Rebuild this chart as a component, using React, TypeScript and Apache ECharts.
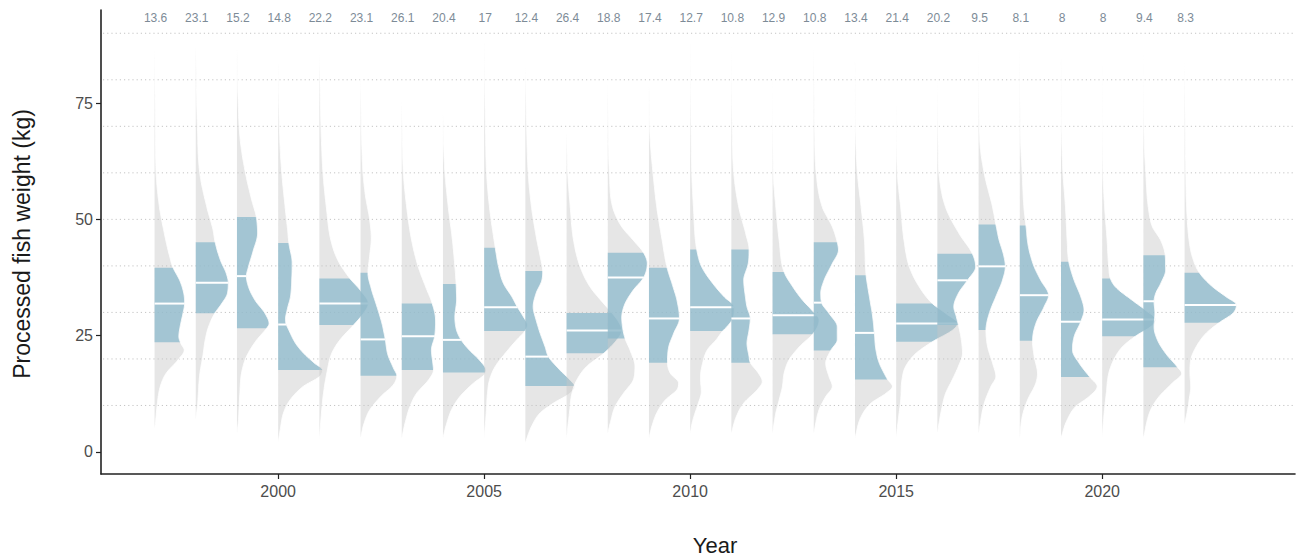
import React, { useEffect, useRef } from "react";
import * as echarts from "echarts";

// Survey years and the small summary value printed above each year
const years = [
  1997, 1998, 1999, 2000, 2001, 2002, 2003, 2004, 2005, 2006, 2007, 2008, 2009,
  2010, 2011, 2012, 2013, 2014, 2015, 2016, 2017, 2018, 2019, 2020, 2021, 2022,
];
const topLabels = [
  "13.6", "23.1", "15.2", "14.8", "22.2", "23.1", "26.1", "20.4", "17", "12.4",
  "26.4", "18.8", "17.4", "12.7", "10.8", "12.9", "10.8", "13.4", "21.4", "20.2",
  "9.5", "8.1", "8", "8", "9.4", "8.3",
];

// Quartiles of processed fish weight (kg) per year
const q1 = [
  23.6, 29.8, 26.6, 17.6, 27.3, 16.4, 17.6, 17.1, 26.0, 14.2, 21.2, 24.4, 19.2,
  26.0, 19.2, 25.3, 21.8, 15.6, 23.7, 27.3, 26.2, 23.9, 16.1, 24.9, 18.2, 27.8,
];
const medians = [
  31.9, 36.4, 37.8, 27.4, 31.9, 24.2, 24.9, 24.1, 31.1, 20.5, 26.1, 37.5, 28.7,
  31.1, 28.7, 29.4, 32.1, 25.6, 27.6, 36.9, 39.9, 33.7, 28.0, 28.5, 32.4, 31.6,
];
const q3 = [
  39.6, 45.1, 50.5, 44.9, 37.3, 38.5, 31.9, 36.1, 43.9, 38.9, 29.9, 42.8, 39.6,
  43.5, 43.5, 38.7, 45.1, 38.0, 31.9, 42.6, 48.9, 48.7, 40.9, 37.3, 42.3, 38.5,
];

// Density profiles: [weight (kg), half-width (years)], bottom to top
const density1997 = [[5, 0], [6.2, 0.02], [9.8, 0.06], [14.1, 0.14], [16.9, 0.28], [19.8, 0.57], [21.9, 0.72], [23.3, 0.64], [24.8, 0.59], [26.9, 0.62], [29.8, 0.69], [31.9, 0.73], [34.1, 0.71], [36.9, 0.61], [39.6, 0.45], [42.6, 0.35], [46.9, 0.24], [52.6, 0.12], [59.8, 0.04], [70, 0.02], [88, 0]];
const density1998 = [[7, 0], [9.8, 0.04], [16.9, 0.1], [20.5, 0.17], [24.1, 0.23], [26.9, 0.31], [29.8, 0.46], [31.9, 0.63], [34.1, 0.77], [36.4, 0.79], [38.4, 0.74], [41.2, 0.6], [45.1, 0.47], [47.7, 0.42], [52.6, 0.27], [59.8, 0.1], [70, 0.04], [87.5, 0]];
const density1999 = [[4, 0], [6.2, 0.03], [12.6, 0.07], [16.9, 0.11], [20.5, 0.23], [24.1, 0.48], [26.6, 0.72], [27.6, 0.78], [29.8, 0.68], [32.6, 0.44], [35.5, 0.28], [37.8, 0.23], [39.8, 0.28], [43.4, 0.4], [46.9, 0.5], [50.5, 0.47], [54.1, 0.36], [59.8, 0.21], [67, 0.08], [75, 0.03], [87, 0]];
const density2000 = [[2, 0], [4.8, 0.05], [8.4, 0.13], [11.2, 0.29], [14.1, 0.61], [16.2, 1.0], [17.6, 1.08], [19.1, 0.88], [21.2, 0.62], [23.4, 0.42], [26.2, 0.26], [27.6, 0.19], [28.6, 0.18], [30.6, 0.22], [33.4, 0.3], [37, 0.33], [40.6, 0.34], [44.9, 0.26], [47.7, 0.23], [52.6, 0.17], [59.8, 0.09], [67, 0.04], [84, 0]];
const density2001 = [[2.6, 0], [6.2, 0.03], [12.6, 0.1], [16.9, 0.18], [21.2, 0.3], [24.1, 0.5], [27.3, 0.83], [29.8, 1.07], [31.9, 1.19], [34.8, 0.99], [37.3, 0.74], [41.2, 0.45], [45.5, 0.28], [52.6, 0.17], [59.8, 0.09], [67, 0.05], [86, 0]];
const density2002 = [[3, 0], [6, 0.08], [9, 0.22], [12, 0.5], [14.5, 0.8], [16.4, 0.88], [18, 0.8], [21, 0.66], [24.2, 0.6], [27.6, 0.52], [31.2, 0.4], [34.8, 0.27], [38.5, 0.18], [42, 0.22], [46, 0.26], [50, 0.22], [55, 0.12], [60, 0.06], [66, 0.03], [81, 0]];
const density2003 = [[3, 0], [6.2, 0.08], [9.8, 0.2], [12.6, 0.36], [15.5, 0.65], [17.6, 0.77], [19.4, 0.75], [21.9, 0.72], [24.9, 0.8], [28.4, 0.82], [31.9, 0.74], [35.5, 0.58], [39.8, 0.4], [45.5, 0.24], [52.6, 0.12], [59.8, 0.04], [65, 0.02], [75.6, 0]];
const density2004 = [[3, 0], [5.5, 0.07], [9.1, 0.21], [11.9, 0.41], [14.8, 0.74], [16.6, 1.0], [17.6, 1.04], [19.8, 0.88], [21.9, 0.64], [24.1, 0.44], [26.2, 0.33], [29.1, 0.29], [32.6, 0.33], [36.1, 0.32], [39.8, 0.29], [45.5, 0.23], [52.6, 0.13], [59.8, 0.05], [65, 0.02], [73, 0]];
const density2005 = [[3, 0], [8.4, 0.05], [12.6, 0.08], [15.5, 0.13], [18.4, 0.27], [21.2, 0.51], [24.1, 0.79], [26, 0.99], [27.3, 1.05], [29.1, 0.95], [31.1, 0.81], [33.4, 0.67], [36.2, 0.47], [39.8, 0.35], [43.9, 0.27], [52.6, 0.13], [59.8, 0.06], [70, 0.03], [88.5, 0]];
const density2006 = [[2, 0], [5.5, 0.15], [8.4, 0.36], [10.5, 0.68], [12.6, 1.08], [14.1, 1.2], [15.5, 1.08], [17.6, 0.84], [20.5, 0.56], [22.6, 0.48], [25.5, 0.36], [28.4, 0.26], [31.2, 0.19], [34.1, 0.26], [36.9, 0.4], [38.9, 0.42], [42, 0.36], [45.5, 0.28], [52.6, 0.15], [59.8, 0.07], [70, 0.03], [83, 0]];
const density2007 = [[3, 0], [8.4, 0.07], [12.6, 0.13], [15.5, 0.25], [18.4, 0.49], [21.2, 0.9], [24.1, 1.22], [26.1, 1.34], [28, 1.26], [29.9, 1.1], [31.9, 0.9], [35.5, 0.57], [39.8, 0.33], [45.5, 0.17], [52.6, 0.09], [59.8, 0.03], [69, 0]];
const density2008 = [[4, 0], [6.2, 0.06], [9.8, 0.18], [12.6, 0.38], [15.5, 0.62], [18.4, 0.66], [21.9, 0.54], [24.4, 0.42], [26.8, 0.36], [28.9, 0.34], [31.9, 0.42], [34.8, 0.62], [37.5, 0.87], [40.5, 0.96], [42.8, 0.87], [45.5, 0.62], [48.4, 0.34], [52.6, 0.12], [59.8, 0.04], [65, 0.02], [80, 0]];
const density2009 = [[3, 0], [5.5, 0.07], [8.4, 0.19], [11.2, 0.4], [13.4, 0.68], [14.8, 0.72], [16.9, 0.52], [19.2, 0.45], [22.6, 0.48], [25.5, 0.6], [28.7, 0.74], [32.6, 0.68], [36.2, 0.56], [39.6, 0.44], [45.5, 0.32], [52.6, 0.19], [59.8, 0.1], [67, 0.03], [79, 0]];
const density2010 = [[4, 0], [7, 0.07], [10, 0.18], [13, 0.27], [16, 0.25], [19, 0.3], [22, 0.42], [24, 0.62], [26.1, 0.8], [27, 0.9], [29, 1.05], [31.1, 1.07], [33.4, 0.82], [36.2, 0.55], [39.8, 0.28], [43.5, 0.16], [52.6, 0.08], [59.8, 0.04], [70, 0.02], [88.5, 0]];
const density2011 = [[4, 0], [7.6, 0.12], [10.5, 0.3], [13.4, 0.63], [15.1, 0.75], [16.9, 0.66], [19.2, 0.46], [20.5, 0.43], [23.4, 0.38], [26.2, 0.43], [28.7, 0.46], [31.2, 0.38], [34.1, 0.33], [36.9, 0.3], [40.5, 0.41], [43.5, 0.43], [46.9, 0.35], [52.6, 0.18], [59.8, 0.06], [70, 0.02], [88, 0]];
const density2012 = [[4, 0], [8.4, 0.08], [11.2, 0.16], [14.1, 0.24], [16.9, 0.28], [19.8, 0.4], [22.6, 0.65], [25.3, 0.97], [26.9, 1.09], [28.4, 1.13], [30.5, 0.95], [32.6, 0.73], [35.5, 0.49], [38.7, 0.28], [45.5, 0.16], [52.6, 0.08], [59.8, 0.02], [84, 0]];
const density2013 = [[4, 0], [9.1, 0.13], [11.9, 0.29], [14.1, 0.45], [16.2, 0.37], [19.1, 0.29], [21.8, 0.41], [24.1, 0.57], [26.9, 0.57], [29.8, 0.37], [32.1, 0.19], [34.1, 0.17], [36.9, 0.25], [40.5, 0.45], [43.4, 0.6], [45.1, 0.57], [48.4, 0.45], [52.6, 0.21], [59.8, 0.06], [70, 0.02], [87.5, 0]];
const density2014 = [[3, 0], [7.6, 0.15], [10.5, 0.39], [12.6, 0.75], [14.1, 0.91], [15.6, 0.79], [16.9, 0.71], [19.1, 0.59], [21.9, 0.51], [25.6, 0.47], [29.1, 0.43], [33.4, 0.35], [38, 0.27], [45.5, 0.23], [52.6, 0.15], [59.8, 0.06], [67, 0.02], [85, 0]];
const density2015 = [[3, 0], [7.6, 0.06], [11.2, 0.11], [15.5, 0.14], [18.4, 0.23], [21.2, 0.48], [23.7, 0.88], [26.2, 1.37], [27.6, 1.49], [29.8, 1.2], [31.9, 0.88], [35.5, 0.56], [39.8, 0.32], [45.5, 0.19], [52.6, 0.11], [59.8, 0.03], [75.6, 0]];
const density2016 = [[4, 0], [9.1, 0.1], [12.6, 0.2], [15.5, 0.36], [18.4, 0.51], [21.2, 0.61], [24.8, 0.57], [27.3, 0.51], [29.1, 0.46], [31.2, 0.4], [34.1, 0.51], [36.9, 0.73], [39.8, 0.93], [42.6, 0.85], [46.9, 0.53], [52.6, 0.2], [59.8, 0.04], [65, 0.02], [81, 0]];
const density2017 = [[4, 0], [10.5, 0.14], [14.1, 0.3], [16.2, 0.42], [19.1, 0.34], [22.6, 0.22], [26.2, 0.18], [29.8, 0.26], [33.4, 0.42], [36.9, 0.58], [39.9, 0.65], [42.6, 0.6], [45.5, 0.5], [48.9, 0.42], [52.6, 0.34], [59.8, 0.14], [67, 0.03], [88, 0]];
const density2018 = [[3, 0], [7.6, 0.06], [11.2, 0.19], [14.8, 0.39], [16.9, 0.43], [20.5, 0.35], [23.9, 0.31], [27.6, 0.39], [31.2, 0.59], [33.7, 0.7], [36.9, 0.51], [39.8, 0.35], [44.1, 0.21], [48.7, 0.15], [52.6, 0.1], [59.8, 0.06], [67, 0.02], [88, 0]];
const density2019 = [[3, 0], [6.9, 0.15], [9.8, 0.36], [11.9, 0.68], [14.1, 0.88], [16.1, 0.7], [19.1, 0.44], [21.9, 0.28], [24.8, 0.32], [28, 0.48], [30.5, 0.56], [33.4, 0.48], [36.9, 0.32], [40.9, 0.19], [45.5, 0.15], [52.6, 0.11], [59.8, 0.05], [67, 0.02], [86, 0]];
const density2020 = [[3, 0], [7.6, 0.04], [12.6, 0.1], [16.9, 0.16], [19.8, 0.28], [22.6, 0.49], [24.9, 0.81], [27.3, 1.23], [28.5, 1.29], [30.5, 1.05], [32.6, 0.73], [35.5, 0.32], [37.3, 0.2], [39.8, 0.16], [45.5, 0.12], [52.6, 0.06], [59.8, 0.02], [85, 0]];
const density2021 = [[3, 0], [9.1, 0.18], [11.9, 0.38], [14.8, 0.7], [16.9, 0.93], [18.2, 0.83], [21.2, 0.54], [24.1, 0.34], [26.9, 0.26], [29.8, 0.28], [32.4, 0.26], [34.1, 0.3], [36.2, 0.42], [39.1, 0.54], [42.3, 0.53], [45.5, 0.42], [48.4, 0.22], [52.6, 0.12], [59.8, 0.06], [67, 0.02], [87.5, 0]];
const density2022 = [[6, 0], [8.4, 0.06], [11.2, 0.11], [14.1, 0.15], [16.9, 0.13], [19.8, 0.15], [22.6, 0.28], [25.5, 0.52], [27.8, 0.84], [29.8, 1.17], [31.6, 1.26], [33.4, 1.0], [35.5, 0.68], [38.5, 0.36], [41.9, 0.19], [45.5, 0.11], [52.6, 0.05], [59.8, 0.03], [84, 0]];

const densities = [
  density1997, density1998, density1999, density2000, density2001, density2002,
  density2003, density2004, density2005, density2006, density2007, density2008,
  density2009, density2010, density2011, density2012, density2013, density2014,
  density2015, density2016, density2017, density2018, density2019, density2020,
  density2021, density2022,
];

const xTicks = [2000, 2005, 2010, 2015, 2020];
const yTicks = [0, 25, 50, 75];
const guideLines = [10, 20, 30, 40, 50, 60, 70, 80, 90];

const X_MIN = 1995.7;
const X_MAX = 2024.68;
const Y_MIN = -4.73;
const Y_MAX = 95;
const LABEL_Y = 93.3;

const FONT = "'Liberation Sans', Arial, Helvetica, sans-serif";
const SLAB_GREY = "rgba(200,200,200,0.45)";
const SLAB_BLUE = "rgba(137,184,204,0.72)";

// Smooth, shape-preserving curve through a profile's points (Fritsch–Carlson)
function monotoneCurve(pts: number[][]) {
  const n = pts.length;
  const xs = pts.map((p) => p[0]);
  const ys = pts.map((p) => p[1]);
  const d: number[] = [];
  for (let i = 0; i < n - 1; i++) d.push((ys[i + 1] - ys[i]) / (xs[i + 1] - xs[i]));
  const m: number[] = new Array(n);
  m[0] = d[0];
  m[n - 1] = d[n - 2];
  for (let i = 1; i < n - 1; i++) m[i] = d[i - 1] * d[i] <= 0 ? 0 : (d[i - 1] + d[i]) / 2;
  for (let i = 0; i < n - 1; i++) {
    if (d[i] === 0) {
      m[i] = 0;
      m[i + 1] = 0;
      continue;
    }
    const a = m[i] / d[i];
    const b = m[i + 1] / d[i];
    const s = a * a + b * b;
    if (s > 9) {
      const t = 3 / Math.sqrt(s);
      m[i] = t * a * d[i];
      m[i + 1] = t * b * d[i];
    }
  }
  return (x: number) => {
    let i = 0;
    while (i < n - 2 && x > xs[i + 1]) i++;
    const h = xs[i + 1] - xs[i];
    const t = Math.min(1, Math.max(0, (x - xs[i]) / h));
    const t2 = t * t;
    const t3 = t2 * t;
    const v =
      (2 * t3 - 3 * t2 + 1) * ys[i] +
      (t3 - 2 * t2 + t) * h * m[i] +
      (-2 * t3 + 3 * t2) * ys[i + 1] +
      (t3 - t2) * h * m[i + 1];
    return Math.max(0, v);
  };
}

const curves = densities.map((p) => monotoneCurve(p));

function slabRenderer(params: any, api: any) {
  const i = params.dataIndex;
  const yr = years[i];
  const f = curves[i];
  const prof = densities[i];
  const vLo = prof[0][0];
  const vHi = prof[prof.length - 1][0];
  const step = 0.2;

  const edgePts = (a: number, b: number) => {
    const out: number[][] = [];
    for (let v = a; v < b; v += step) out.push(api.coord([yr + f(v), v]));
    out.push(api.coord([yr + f(b), b]));
    return out;
  };

  const fullEdge = edgePts(vLo, vHi);
  const full = [api.coord([yr, vLo]), ...fullEdge, api.coord([yr, vHi])];
  const blueEdge = edgePts(q1[i], q3[i]);
  const blue = [api.coord([yr, q1[i]]), ...blueEdge, api.coord([yr, q3[i]])];
  const m0 = api.coord([yr, medians[i]]);
  const m1 = api.coord([yr + f(medians[i]), medians[i]]);

  return {
    type: "group",
    children: [
      { type: "polygon", shape: { points: full }, style: { fill: SLAB_GREY } },
      { type: "polygon", shape: { points: blue }, style: { fill: SLAB_BLUE } },
      {
        type: "polyline",
        shape: { points: fullEdge },
        style: { stroke: "#ffffff", lineWidth: 0.9, fill: null },
      },
      {
        type: "line",
        shape: { x1: m0[0], y1: m0[1], x2: m1[0], y2: m1[1] },
        style: { stroke: "#ffffff", lineWidth: 2 },
      },
    ],
  };
}

export default function App() {
  const ref = useRef<HTMLDivElement>(null);

  useEffect(() => {
    if (!ref.current) return;
    const chart = echarts.init(ref.current, null, { renderer: "svg" });

    const option: any = {
      animation: false,
      backgroundColor: "#ffffff",
      grid: { left: 101, right: 9, top: 10, bottom: 85 },
      xAxis: {
        type: "value",
        min: X_MIN,
        max: X_MAX,
        axisLine: { show: true, onZero: false, lineStyle: { color: "#222222", width: 1.6 } },
        axisTick: {
          show: true,
          customValues: xTicks,
          length: 5,
          lineStyle: { color: "#222222", width: 1.2 },
        },
        axisLabel: {
          customValues: xTicks,
          formatter: (v: number) => String(v),
          fontSize: 16,
          color: "#4d4d4d",
          margin: 9,
          fontFamily: FONT,
        },
        splitLine: { show: false },
      },
      yAxis: {
        type: "value",
        min: Y_MIN,
        max: Y_MAX,
        axisLine: { show: true, onZero: false, lineStyle: { color: "#222222", width: 1.6 } },
        axisTick: {
          show: true,
          customValues: yTicks,
          length: 5,
          lineStyle: { color: "#222222", width: 1.2 },
        },
        axisLabel: {
          customValues: yTicks,
          formatter: (v: number) => String(v),
          fontSize: 16,
          color: "#4d4d4d",
          margin: 8,
          fontFamily: FONT,
        },
        splitLine: { show: false },
      },
      series: [
        {
          type: "custom",
          name: "guides",
          silent: true,
          z: 1,
          data: guideLines.map((v) => [X_MIN, v]),
          renderItem: (params: any, api: any) => {
            const v = guideLines[params.dataIndex];
            const a = api.coord([X_MIN, v]);
            const b = api.coord([X_MAX, v]);
            return {
              type: "line",
              shape: { x1: a[0] + 2, y1: a[1], x2: b[0], y2: b[1] },
              style: { stroke: "#c4c4c4", lineWidth: 1, lineDash: [1.2, 3] },
            };
          },
        },
        {
          type: "custom",
          name: "slabs",
          silent: true,
          z: 2,
          data: years.map((y, i) => [y, medians[i]]),
          renderItem: slabRenderer,
        },
        {
          type: "custom",
          name: "labels",
          silent: true,
          z: 3,
          data: years.map((y) => [y, LABEL_Y]),
          renderItem: (params: any, api: any) => {
            const i = params.dataIndex;
            const p = api.coord([years[i], LABEL_Y]);
            return {
              type: "text",
              x: p[0] + 1,
              y: p[1],
              style: {
                text: topLabels[i],
                fill: "#7d8b97",
                fontSize: 12,
                fontFamily: FONT,
                align: "center",
                verticalAlign: "middle",
              },
            };
          },
        },
      ],
      graphic: [
        {
          type: "text",
          x: 22,
          y: 244,
          rotation: Math.PI / 2,
          style: {
            text: "Processed fish weight (kg)",
            fill: "#1a1a1a",
            fontSize: 23,
            fontFamily: FONT,
            align: "center",
            verticalAlign: "middle",
          },
        },
        {
          type: "text",
          x: 715,
          y: 545,
          style: {
            text: "Year",
            fill: "#1a1a1a",
            fontSize: 22,
            fontFamily: FONT,
            align: "center",
            verticalAlign: "middle",
          },
        },
      ],
    };

    chart.setOption(option);
    return () => chart.dispose();
  }, []);

  return (
    <div
      ref={ref}
      style={{ position: "fixed", left: 0, top: 0, width: 1304, height: 559 }}
    />
  );
}
